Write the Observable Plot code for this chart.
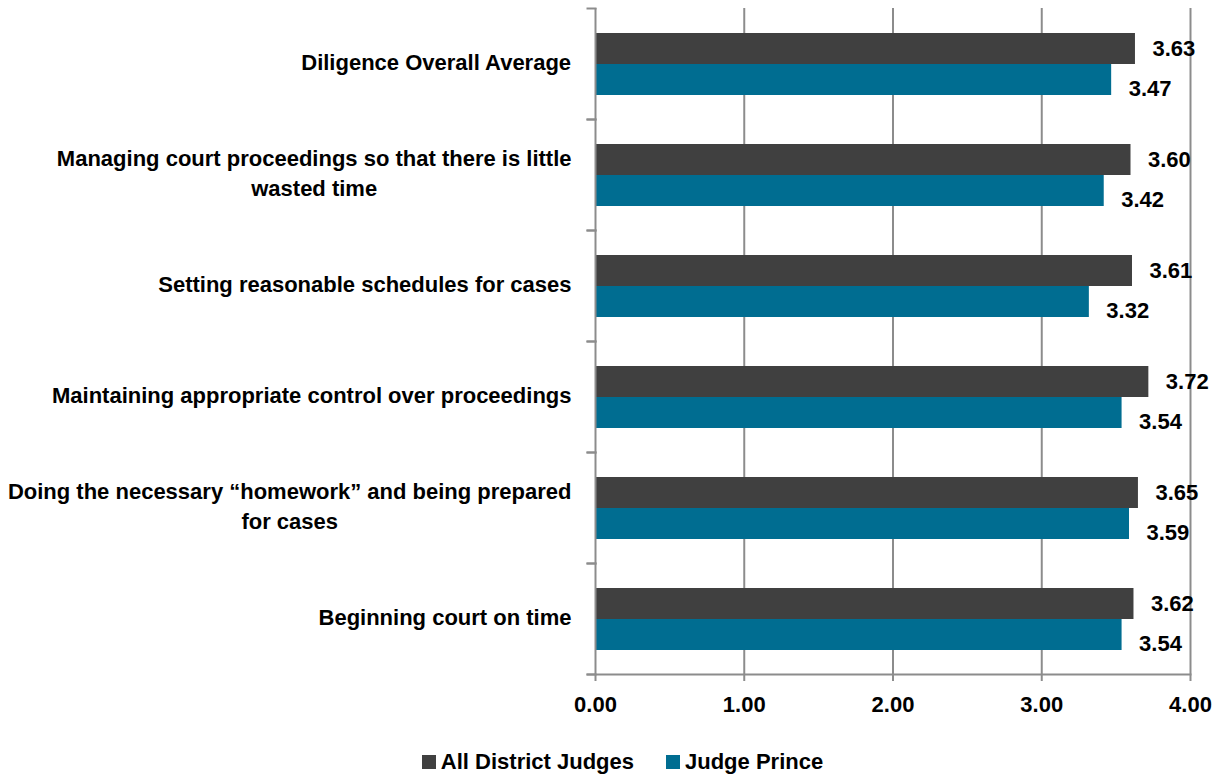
<!DOCTYPE html>
<html>
<head>
<meta charset="utf-8">
<script src="https://cdn.jsdelivr.net/npm/d3@7"></script>
<script src="https://cdn.jsdelivr.net/npm/@observablehq/plot@0.6"></script>
<style>
  html, body { margin: 0; padding: 0; background: #fff; }
  body { width: 1220px; height: 776px; overflow: hidden; font-family: "Liberation Sans", Arial, sans-serif; font-weight: bold; }
  #legend { display: flex; justify-content: center; align-items: center; height: 51px; padding-top: 23px; padding-left: 25px; box-sizing: border-box; font-size: 22px; color: #000; }
  .item { display: flex; align-items: center; margin: 0 16px; }
  .sw { width: 14px; height: 14px; margin-right: 5px; }
</style>
</head>
<body>
<div id="chart"></div>
<div id="legend"></div>
<script>
const categories = [
  "Diligence Overall Average",
  "Managing court proceedings so that there is little wasted time",
  "Setting reasonable schedules for cases",
  "Maintaining appropriate control over proceedings",
  "Doing the necessary “homework” and being prepared for cases",
  "Beginning court on time"
];
const categoryLabels = [
  "Diligence Overall Average",
  "Managing court proceedings so that there is little\nwasted time",
  "Setting reasonable schedules for cases",
  "Maintaining appropriate control over proceedings",
  "Doing the necessary “homework” and being prepared\nfor cases",
  "Beginning court on time"
];
const seriesNames = ["All District Judges", "Judge Prince"];
const allDistrictJudges = [3.63, 3.60, 3.61, 3.72, 3.65, 3.62];
const judgePrince = [3.47, 3.42, 3.32, 3.54, 3.59, 3.54];
const xTicks = [0, 1, 2, 3, 4];
const colors = ["#404040", "#006d91"];

const data = [];
categories.forEach((c, i) => {
  data.push({cat: c, series: seriesNames[0], value: allDistrictJudges[i]});
  data.push({cat: c, series: seriesNames[1], value: judgePrince[i]});
});

const FONT = '"Liberation Sans", Arial, sans-serif';
const FS = 22;
const ctx = document.createElement("canvas").getContext("2d");
ctx.font = `bold ${FS}px ${FONT}`;
const labelWidth = s => Math.max(...s.split("\n").map(l => ctx.measureText(l).width));

const grey = "#8c8c8c";
const labelMarks = categories.map((c, i) =>
  Plot.text([c], {
    fy: d => d,
    frameAnchor: "left",
    text: () => categoryLabels[i],
    textAnchor: "middle",
    dx: -(24 + labelWidth(categoryLabels[i]) / 2),
    dy: -4,
    lineHeight: 30 / FS,
    fontSize: FS,
    fontWeight: "bold",
    fill: "#000"
  })
);

const chart = Plot.plot({
  width: 1220,
  height: 725,
  marginLeft: 595,
  marginRight: 30,
  marginTop: 6,
  marginBottom: 50,
  style: {fontFamily: FONT, fontWeight: "bold", fontSize: FS + "px", background: "#fff", color: "#000"},
  x: {domain: [0, 4], axis: null},
  y: {domain: seriesNames, paddingInner: 0, paddingOuter: 0.772, axis: null},
  fy: {domain: categories, padding: 0, axis: null},
  color: {domain: seriesNames, range: colors},
  marks: [
    Plot.gridX(xTicks.slice(1), {stroke: grey, strokeOpacity: 1, strokeWidth: 2}),
    Plot.barX(data, {x: "value", y: "series", fy: "cat", fill: "series"}),
    Plot.ruleX([0], {stroke: grey, strokeWidth: 2}),
    Plot.frame({anchor: "top", insetLeft: -8, insetRight: 595, stroke: grey, strokeWidth: 2}),
    Plot.frame({anchor: "bottom", insetLeft: -8, insetRight: 595, stroke: grey, strokeWidth: 2}),
    Plot.frame({anchor: "bottom", insetLeft: -8, stroke: grey, strokeWidth: 2, facetAnchor: "bottom"}),
    Plot.axisX({ticks: xTicks, tickFormat: d3.format(".2f"), label: null, tickSize: 7, tickPadding: 15, stroke: grey, strokeWidth: 2, strokeOpacity: 1, fontSize: FS, fontWeight: "bold", fill: "#000", facetAnchor: "bottom", anchor: "bottom"}),
    Plot.text(data.filter(d => d.series === seriesNames[0]), {x: "value", y: "series", fy: "cat", text: d => d3.format(".2f")(d.value), textAnchor: "start", dx: 17, dy: 0, fontSize: FS, fontWeight: "bold", fill: "#000"}),
    Plot.text(data.filter(d => d.series === seriesNames[1]), {x: "value", y: "series", fy: "cat", text: d => d3.format(".2f")(d.value), textAnchor: "start", dx: 17, dy: 9, fontSize: FS, fontWeight: "bold", fill: "#000"}),
    ...labelMarks
  ]
});
document.getElementById("chart").appendChild(chart);

const legend = document.getElementById("legend");
seriesNames.forEach((s, i) => {
  const it = document.createElement("div");
  it.className = "item";
  const sw = document.createElement("div");
  sw.className = "sw";
  sw.style.background = colors[i];
  const t = document.createElement("span");
  t.textContent = s;
  it.appendChild(sw); it.appendChild(t);
  legend.appendChild(it);
});
</script>
</body>
</html>
